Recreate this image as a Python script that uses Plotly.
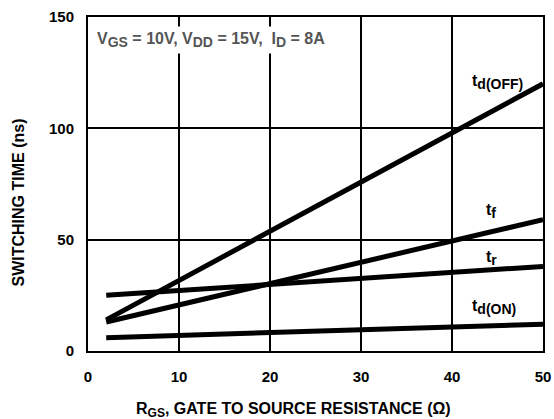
import plotly.graph_objects as go

rgs = [2, 50]
td_off = [14, 120]
t_f = [13, 59]
t_r = [25, 38]
td_on = [6, 12]

series = [("td(OFF)", td_off), ("tf", t_f), ("tr", t_r), ("td(ON)", td_on)]

SUB = "<sub><span style='font-size:14px'>{}</span></sub>"
labels = [
    ("t" + SUB.format("d(OFF)"), 42.0, 121),
    ("t" + SUB.format("f"), 43.5, 63),
    ("t" + SUB.format("r"), 43.5, 41.8),
    ("t" + SUB.format("d(ON)"), 42.0, 19.8),
]

FAM = "Liberation Sans, Arial, sans-serif"

fig = go.Figure()
for name, ys in series:
    fig.add_trace(go.Scatter(x=rgs, y=ys, mode="lines", name=name,
                             line=dict(color="black", width=5), showlegend=False))

for txt, x, y in labels:
    fig.add_annotation(x=x, y=y, text=txt, showarrow=False,
                       xanchor="left", yanchor="middle",
                       font=dict(size=16, family=FAM, color="black", weight="bold"))

S2 = "<sub><span style='font-size:14px'>{}</span></sub>"
fig.add_annotation(xref="paper", yref="paper", x=0.012, y=0.93,
                   text="V" + S2.format("GS") + " = 10V, V" + S2.format("DD") +
                        " = 15V,\u00a0 I" + S2.format("D") + " = 8A",
                   showarrow=False, xanchor="left", yanchor="middle", borderpad=3,
                   bgcolor="white", font=dict(size=16, family=FAM, color="#555555", weight="bold"))

fig.add_annotation(xref="paper", yref="paper", x=(293 - 88) / 455, y=(351 - 410) / 334,
                   text="R<sub><span style='font-size:12px'>GS</span></sub>, GATE TO SOURCE RESISTANCE (Ω)",
                   showarrow=False, xanchor="center", yanchor="middle",
                   font=dict(size=16, family=FAM, color="black", weight="bold"))

fig.add_annotation(xref="paper", yref="paper", x=(17.5 - 88) / 455, y=(351 - 203) / 334,
                   text="SWITCHING TIME (ns)", textangle=-90,
                   showarrow=False, xanchor="center", yanchor="middle",
                   font=dict(size=16, family=FAM, color="black", weight="bold"))

tf = dict(size=15, family=FAM, color="black", weight="bold")
fig.update_xaxes(range=[0, 50], tickvals=[0, 10, 20, 30, 40, 50],
                 showgrid=True, gridcolor="black", gridwidth=2,
                 showline=True, linecolor="black", linewidth=2, mirror=True,
                 zeroline=False, ticks="", tickfont=tf, automargin=False,
                 ticklabelstandoff=11)
fig.update_yaxes(range=[0, 150], tickvals=[0, 50, 100, 150],
                 showgrid=True, gridcolor="black", gridwidth=2,
                 showline=True, linecolor="black", linewidth=2, mirror=True,
                 zeroline=False, ticks="", tickfont=tf, automargin=False,
                 ticklabelstandoff=9)

fig.update_layout(width=554, height=419, margin=dict(l=88, r=11, t=17, b=68),
                  plot_bgcolor="white", paper_bgcolor="white")

fig.write_html("out.html", config={"displayModeBar": False},
               post_script="document.body.style.margin='0';document.body.style.overflow='hidden';")
